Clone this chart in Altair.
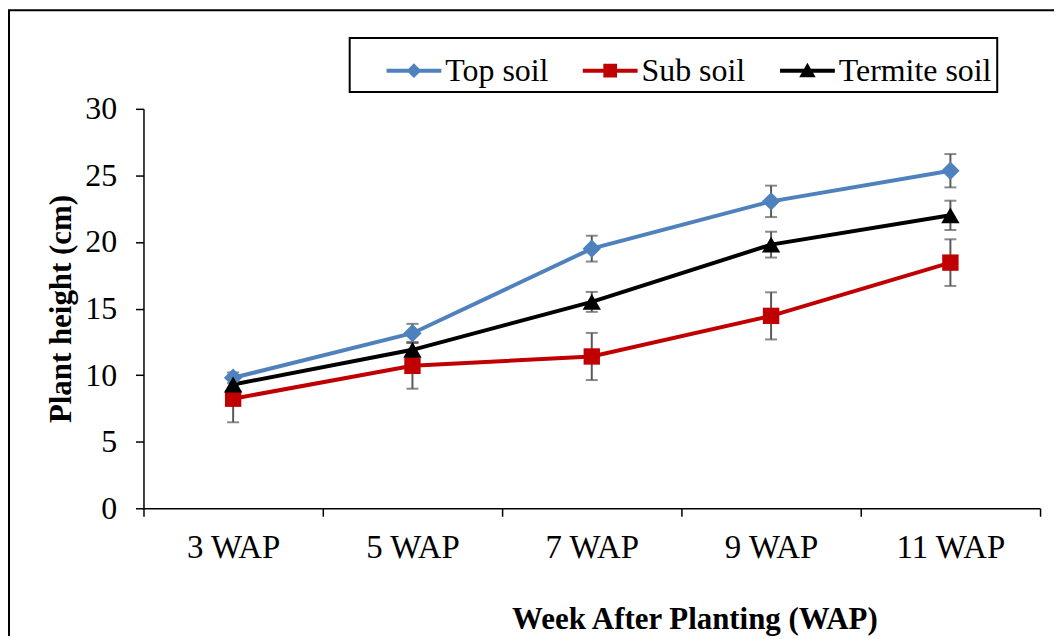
import altair as alt
import pandas as pd

weeks = ["3 WAP", "5 WAP", "7 WAP", "9 WAP", "11 WAP"]
series = ["Top soil", "Sub soil", "Termite soil"]
top_mean = [9.8, 13.15, 19.5, 23.05, 25.35]
top_err = [0.4, 0.7, 0.97, 1.18, 1.25]
sub_mean = [8.23, 10.7, 11.4, 14.45, 18.45]
sub_err = [1.77, 1.72, 1.77, 1.77, 1.75]
ter_mean = [9.3, 11.9, 15.5, 19.8, 22.0]
ter_err = [0.35, 0.57, 0.75, 0.97, 1.1]
colors = ["#4F81BD", "#C00000", "#000000"]
y_ticks = [0, 5, 10, 15, 20, 25, 30]

rows = []
for name, means, errs in zip(series, [top_mean, sub_mean, ter_mean], [top_err, sub_err, ter_err]):
    for i, (w, m, e) in enumerate(zip(weeks, means, errs)):
        rows.append({"week": w, "idx": i, "series": name, "mean": m, "lo": m - e, "hi": m + e})
df = pd.DataFrame(rows)

FONT = "Liberation Serif"

xscale = alt.Scale(type="band", paddingInner=0, paddingOuter=0)
xaxis = alt.Axis(title="Week After Planting (WAP)", tickBand="extent", labelAngle=0,
                 labelPadding=41, labelBaseline="alphabetic", labelFontSize=33,
                 titleX=553, titleY=121, titleBaseline="alphabetic", titleAlign="center")
yscale = alt.Scale(domain=[0, 30], nice=False, zero=True)
yaxis = alt.Axis(title="Plant height (cm)", values=y_ticks, labelPadding=19,
                 titleX=-73, titleY=200.5, titleAngle=270, titleBaseline="alphabetic",
                 titleAlign="center")
cscale = alt.Scale(domain=series, range=colors)

X = alt.X("week:N", sort=weeks, scale=xscale, axis=xaxis)
YM = alt.Y("mean:Q", scale=yscale, axis=yaxis)

line_seg = "M-1,-0.07L1,-0.07L1,0.07L-1,0.07Z"
paths = [
    line_seg + "M0,-0.27L0.27,0L0,0.27L-0.27,0Z",
    line_seg + "M-0.25,-0.25L0.25,-0.25L0.25,0.25L-0.25,0.25Z",
    line_seg + "M0,-0.29L0.3,0.24L-0.3,0.24Z",
]

base = alt.Chart(df)

leg = alt.Legend(title=None, orient="none", legendX=207, legendY=-71, direction="horizontal",
                 symbolSize=3025, symbolOffset=32, labelOffset=4, columnPadding=2,
                 padding=5, strokeColor="black", fillColor="white",
                 labelFont=FONT, labelFontSize=32, labelColor="black",
                 symbolStrokeWidth=0, symbolOpacity=1)

legend_layer = base.mark_point(filled=True, opacity=0, size=1).encode(
    x=X, y=YM,
    fill=alt.Fill("series:N", scale=cscale, legend=leg),
    shape=alt.Shape("series:N", scale=alt.Scale(domain=series, range=paths), legend=leg),
)

rules = base.mark_rule(color="#595959", strokeWidth=2).encode(
    x=X,
    y=alt.Y("lo:Q", scale=yscale, axis=yaxis),
    y2="hi:Q",
)
cap_lo = base.mark_tick(color="#595959", thickness=2, size=12).encode(
    x=X, y=alt.Y("lo:Q", scale=yscale, axis=yaxis)
)
cap_hi = base.mark_tick(color="#595959", thickness=2, size=12).encode(
    x=X, y=alt.Y("hi:Q", scale=yscale, axis=yaxis)
)
lines = base.mark_line(strokeWidth=4).encode(
    x=X, y=YM,
    color=alt.Color("series:N", scale=cscale, legend=None),
    detail="series:N",
    order=alt.Order("idx:Q"),
)

shapes = {"Top soil": ("diamond", 340), "Sub soil": ("square", 270), "Termite soil": ("triangle-up", 340)}
point_layers = []
for s in series:
    shp, sz = shapes[s]
    point_layers.append(
        base.transform_filter(alt.datum.series == s).mark_point(
            filled=True, shape=shp, size=sz, opacity=1
        ).encode(
            x=X, y=YM,
            color=alt.Color("series:N", scale=cscale, legend=None),
        )
    )

frame_df = pd.DataFrame({"frame": [1]})
frame_left = alt.Chart(frame_df).mark_rule(color="black", strokeWidth=2).encode(
    x=alt.value(-135), y=alt.value(-99), y2=alt.value(800)
)
frame_top = alt.Chart(frame_df).mark_rule(color="black", strokeWidth=2).encode(
    x=alt.value(-136), x2=alt.value(1100), y=alt.value(-99)
)

chart = alt.layer(
    frame_left, frame_top, legend_layer, rules, cap_lo, cap_hi, lines, *point_layers
).properties(
    width=900, height=401,
    autosize=alt.AutoSizeParams(type="none"),
    padding={"left": 136, "top": 100, "right": 14, "bottom": 127},
).configure(
    font=FONT
).configure_view(
    stroke=None
).configure_axis(
    grid=False, domainColor="black", domainWidth=1.5, tickColor="black", tickWidth=1.5,
    tickSize=8, labelFont=FONT, labelFontSize=32, labelColor="black",
    titleFont=FONT, titleFontSize=31, titleFontWeight="bold", titleColor="black",
).configure_legend(
    strokeWidth=2, labelFont=FONT, labelFontSize=32, labelColor="black"
)

chart.save("out.html", embed_options={"renderer": "svg", "actions": False})
